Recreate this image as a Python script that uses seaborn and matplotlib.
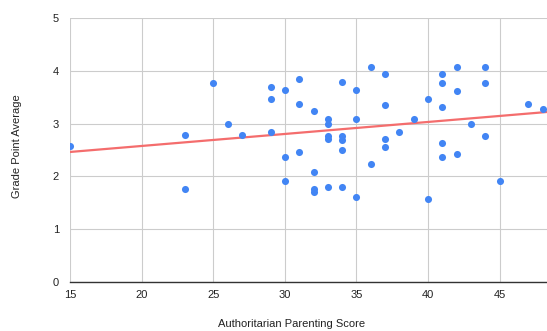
import seaborn as sns
import pandas as pd
import matplotlib
matplotlib.use('Agg')
from matplotlib import pyplot as plt

# values
parenting_score = [15, 23, 23, 25, 26, 27, 29, 29, 29, 30, 30, 30, 31, 31, 31,
                   32, 32, 32, 32, 33, 33, 33, 33, 33, 34, 34, 34, 34, 34,
                   35, 35, 35, 36, 36, 37, 37, 37, 37, 38, 39, 40, 40,
                   41, 41, 41, 41, 41, 42, 42, 42, 43, 44, 44, 44, 45, 47, 48]
gpa = [2.57, 2.79, 1.76, 3.77, 2.99, 2.79, 3.69, 3.46, 2.85, 3.64, 2.36, 1.92, 3.85, 3.38, 2.46,
       3.23, 2.08, 1.77, 1.71, 3.08, 2.99, 2.77, 2.70, 1.79, 3.79, 2.77, 2.69, 2.50, 1.79,
       3.64, 3.08, 1.61, 4.08, 2.23, 3.93, 3.36, 2.70, 2.56, 2.85, 3.08, 3.46, 1.57,
       3.93, 3.77, 3.31, 2.63, 2.37, 4.07, 3.62, 2.43, 2.99, 4.08, 3.77, 2.77, 1.92, 3.38, 3.28]
x_ticks = [15, 20, 25, 30, 35, 40, 45]
y_ticks = [0, 1, 2, 3, 4, 5]

df = pd.DataFrame({"score": parenting_score, "gpa": gpa})

sns.set_style("whitegrid")
plt.rcParams['font.family'] = ['Liberation Sans', 'DejaVu Sans']

fig = plt.figure(figsize=(5.47, 3.31), dpi=100)
ax = fig.add_axes([70 / 547, 1 - 282 / 331, 477 / 547, 264 / 331])

sns.regplot(data=df, x="score", y="gpa", ax=ax, ci=None, truncate=False,
            scatter_kws=dict(s=26, color="#4285F4", linewidths=0, alpha=1, zorder=3),
            line_kws=dict(color="#F46D6D", linewidth=1.6, zorder=2))

ax.set_xlim(15, 48.3)
ax.set_ylim(0, 5)
ax.set_xticks(x_ticks)
ax.set_yticks(y_ticks)
ax.grid(True, color="#cccccc", linewidth=0.8)
for side in ["left", "top", "right"]:
  ax.spines[side].set_visible(False)
ax.spines["bottom"].set_color("#333333")
ax.spines["bottom"].set_linewidth(1.0)
ax.tick_params(axis="y", length=5, color="#cccccc", width=0.8, pad=3, labelsize=8, labelcolor="#222222")
ax.tick_params(axis="x", length=0, pad=6, labelsize=8, labelcolor="#222222")

ax.set_xlabel("Authoritarian Parenting Score", fontsize=8, color="#222222")
ax.set_ylabel("Grade Point Average", fontsize=8, color="#222222")
ax.xaxis.set_label_coords(0.465, -0.14)
ax.yaxis.set_label_coords(-0.10, 0.515)

plt.savefig("out.png", dpi=100)
plt.close()
